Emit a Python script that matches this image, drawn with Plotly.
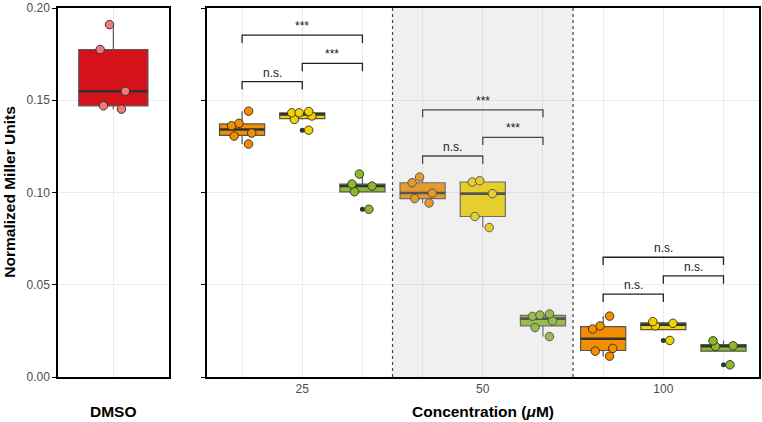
import numpy as np
import plotly.graph_objects as go

# ---------------- data ----------------
concentrations = ["25", "50", "100"]
series_names = ["orange", "yellow", "green"]
series_colors = ["#F28E00", "#F2D300", "#8CBA2A"]

dmso = [0.1452, 0.1470, 0.1549, 0.1775, 0.1910]

orange = [
    [0.1441, 0.1375, 0.1362, 0.1322, 0.1306, 0.1263],
    [0.1084, 0.1053, 0.0997, 0.0967, 0.0943],
    [0.0330, 0.0277, 0.0260, 0.0155, 0.0140, 0.0113],
]
yellow = [
    [0.1439, 0.1432, 0.1432, 0.1415, 0.1396, 0.1338],
    [0.1064, 0.1057, 0.0994, 0.0870, 0.0810],
    [0.0300, 0.0291, 0.0277, 0.0198],
]
green = [
    [0.1100, 0.1046, 0.1035, 0.1004, 0.0909],
    [0.0342, 0.0336, 0.0329, 0.0304, 0.0268, 0.0219],
    [0.0196, 0.0169, 0.0165, 0.0066],
]

bracket_pairs = [(0, 2), (1, 2), (0, 1)]
bracket_heights = [
    [0.1853, 0.1700, 0.1601],
    [0.1448, 0.1299, 0.1198],
    [0.0649, 0.0548, 0.0449],
]
bracket_labels = [
    ["***", "***", "n.s."],
    ["***", "***", "n.s."],
    ["n.s.", "n.s.", "n.s."],
]

y_ticks = [0.00, 0.05, 0.10, 0.15, 0.20]
y_ticktext = ["0.00", "0.05", "0.10", "0.15", "0.20"]

# ---------------- helpers ----------------
FONT = "Liberation Sans, Arial, Helvetica, sans-serif"
BOX_LINE = "#555555"
MED_COLOR = "#333333"
DODGE = 1.0 / 3.0
BOXW = 0.25
Y_RANGE = [0, 0.20002]


def stats(vals):
    v = np.sort(np.asarray(vals, dtype=float))
    q1, med, q3 = np.quantile(v, [0.25, 0.5, 0.75])
    iqr = q3 - q1
    lo_lim, hi_lim = q1 - 1.5 * iqr, q3 + 1.5 * iqr
    inside = v[(v >= lo_lim) & (v <= hi_lim)]
    lf = min(q1, inside.min())
    uf = max(q3, inside.max())
    out = v[(v < lo_lim) | (v > hi_lim)]
    return q1, med, q3, lf, uf, out


fig = go.Figure()


def add_group(pos, vals, fill, pt_color, xa, ya, width, jitter):
    q1, med, q3, lf, uf, out = stats(vals)
    common = dict(xaxis=xa, yaxis=ya, showlegend=False, hoverinfo="skip")
    # main box
    fig.add_trace(go.Box(x=[pos], q1=[q1], median=[med], q3=[q3],
                         lowerfence=[lf], upperfence=[uf], width=width,
                         fillcolor=fill, line=dict(color=BOX_LINE, width=1.2),
                         whiskerwidth=0, boxpoints=False, **common))
    # thick median line
    fig.add_trace(go.Box(x=[pos], q1=[med], median=[med], q3=[med],
                         lowerfence=[med], upperfence=[med], width=width,
                         fillcolor="rgba(0,0,0,0)",
                         line=dict(color=MED_COLOR, width=2.6),
                         whiskerwidth=0, boxpoints=False, **common))
    # outliers (drawn under jittered points)
    if len(out):
        fig.add_trace(go.Box(x=[pos] * len(out), y=list(out), width=width,
                             fillcolor="rgba(0,0,0,0)",
                             line=dict(color="rgba(0,0,0,0)", width=0),
                             whiskerwidth=0, boxpoints="all", jitter=0,
                             pointpos=0,
                             marker=dict(color="#333333", size=5,
                                         line=dict(width=0)),
                             **common))
    # jittered points
    fig.add_trace(go.Box(x=[pos] * len(vals), y=vals, width=width,
                         fillcolor="rgba(0,0,0,0)",
                         line=dict(color="rgba(0,0,0,0)", width=0),
                         whiskerwidth=0, boxpoints="all", jitter=jitter,
                         pointpos=0,
                         marker=dict(color=pt_color, size=8.5,
                                     line=dict(color="#2a2a2a", width=0.9)),
                         **common))


# DMSO panel
add_group(1.0, dmso, "#D51119", "#F07878", "x", "y", 0.75, 0.45)

# concentration panel
all_series = [orange, yellow, green]
for g, conc in enumerate(concentrations):
    center = g + 1
    for s in range(3):
        pos = center + (s - 1) * DODGE
        add_group(pos, all_series[s][g], series_colors[s], series_colors[s],
                  "x2", "y2", BOXW, 0.55)

# significance brackets
annotations = []
tip = 0.0042
for g in range(len(concentrations)):
    center = g + 1
    for k, (a, b) in enumerate(bracket_pairs):
        xa = center + (a - 1) * DODGE
        xb = center + (b - 1) * DODGE
        h = bracket_heights[g][k]
        fig.add_trace(go.Scatter(x=[xa, xa, xb, xb], y=[h - tip, h, h, h - tip],
                                 mode="lines", line=dict(color="#222222", width=1.3),
                                 xaxis="x2", yaxis="y2", showlegend=False,
                                 hoverinfo="skip"))
        annotations.append(dict(x=(xa + xb) / 2, y=h, xref="x2", yref="y2",
                                text=bracket_labels[g][k], showarrow=False,
                                yanchor="bottom", yshift=0,
                                font=dict(family=FONT, size=12, color="#1a1a1a")))

# titles
annotations.append(dict(x=-0.0697, y=0.5, xref="paper", yref="paper",
                        text="<b>Normalized Miller Units</b>", textangle=-90,
                        showarrow=False, xanchor="center", yanchor="middle",
                        font=dict(family=FONT, size=15.5, color="black")))
annotations.append(dict(x=1.0, y=-0.093, xref="x", yref="paper",
                        text="<b>DMSO</b>", showarrow=False,
                        xanchor="center", yanchor="middle",
                        font=dict(family=FONT, size=15.5, color="black")))
annotations.append(dict(x=2.0, y=-0.093, xref="x2", yref="paper",
                        text="<b>Concentration (<i>\u03bc</i>M)</b>", showarrow=False,
                        xanchor="center", yanchor="middle",
                        font=dict(family=FONT, size=15.5, color="black")))

# shaded 50 region and dotted separators
shapes = [
    dict(type="rect", xref="x2", yref="y2 domain", x0=1.5, x1=2.5, y0=0, y1=1,
         fillcolor="rgba(192,192,192,0.24)", line=dict(width=0), layer="above"),
    dict(type="line", xref="x2", yref="y2 domain", x0=1.5, x1=1.5, y0=0, y1=1,
         line=dict(color="#444444", width=1.2, dash="dot"), layer="above"),
    dict(type="line", xref="x2", yref="y2 domain", x0=2.5, x1=2.5, y0=0, y1=1,
         line=dict(color="#444444", width=1.2, dash="dot"), layer="above"),
]

grid_vals = []
grid_text = []
for g, conc in enumerate(concentrations):
    for s in range(3):
        grid_vals.append(g + 1 + (s - 1) * DODGE)
        grid_text.append(conc if s == 1 else "")

axis_common = dict(showline=True, linecolor="black", linewidth=1.5, mirror=True,
                   gridcolor="#EBEBEB", gridwidth=1, zeroline=False)

fig.update_layout(
    width=762, height=422,
    margin=dict(l=58, r=1, t=6, b=45),
    paper_bgcolor="white", plot_bgcolor="white",
    boxmode="overlay",
    font=dict(family=FONT, size=12, color="#4D4D4D"),
    xaxis=dict(domain=[0, 111 / 703], range=[0.4, 1.6], tickvals=[1.0],
               ticktext=[""], ticks="", showticklabels=False, **axis_common),
    yaxis=dict(range=Y_RANGE, tickvals=y_ticks, ticktext=y_ticktext,
               ticks="outside", ticklen=4, tickcolor="black", tickwidth=1.2,
               ticklabeloverflow="allow",
               tickfont=dict(family=FONT, size=12, color="#4D4D4D"),
               **axis_common),
    xaxis2=dict(domain=[149 / 703, 1], range=[0.47, 3.53], anchor="y2",
                tickvals=grid_vals, ticktext=grid_text, ticks="",
                tickfont=dict(family=FONT, size=12, color="#4D4D4D"),
                **axis_common),
    yaxis2=dict(range=Y_RANGE, anchor="x2", tickvals=y_ticks,
                showticklabels=False, ticks="outside", ticklen=4,
                tickcolor="black", tickwidth=1.2, **axis_common),
    annotations=annotations,
    shapes=shapes,
)

fig.write_html("out.html")
